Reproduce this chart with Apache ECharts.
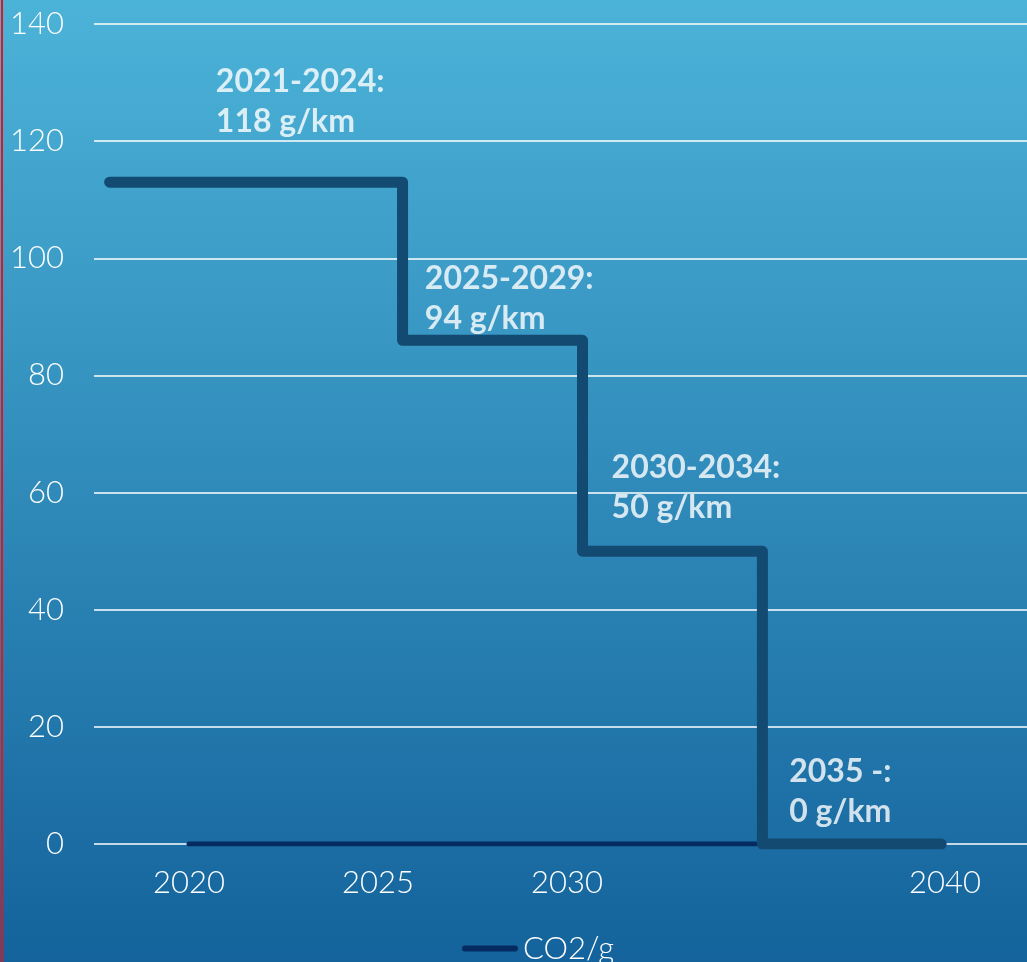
<!DOCTYPE html>
<html>
<head>
<meta charset="utf-8">
<script src="https://cdn.jsdelivr.net/npm/echarts@6/dist/echarts.min.js"></script>
<style>
html,body{margin:0;padding:0;background:#fff;}
#chart{width:1027px;height:962px;}
</style>
</head>
<body>
<div id="chart"></div>
<script>
// ---- data ----
var xTickLabels = [2020, 2025, 2030, 2040];
var yTicks = [0, 20, 40, 60, 80, 100, 120, 140];
// step limit line (x in years, y in g)
var stepYears = [2017.9, 2025.65, 2030.41, 2035.17, 2039.9];
var stepValues = [113, 86, 50, 0, 0];
// CO2/g series
var co2Years = [2020, 2025, 2030, 2035];
var co2Values = [0, 0, 0, 0];
// annotations
var annoTexts = ['2021-2024:\n118 g/km', '2025-2029:\n94 g/km', '2030-2034:\n50 g/km', '2035 -:\n0 g/km'];
var annoYears = [2020.71, 2026.24, 2031.18, 2035.88];
var annoValues = [133.6, 99.9, 67.7, 15.7];

var stepData = stepYears.map(function (x, i) { return [x, stepValues[i]]; });
var co2Data = co2Years.map(function (x, i) { return [x, co2Values[i]]; });
var annoData = annoYears.map(function (x, i) { return { value: [x, annoValues[i]], text: annoTexts[i] }; });

var chart = echarts.init(document.getElementById('chart'));
var FONT = 'Lato, "DejaVu Sans", sans-serif';
chart.setOption({
  animation: false,
  backgroundColor: new echarts.graphic.LinearGradient(0, 0, 0, 1, [
    { offset: 0, color: '#4cb3d8' },
    { offset: 1, color: '#14639c' }
  ]),
  graphic: [{
    type: 'rect', left: 1, top: 0, z: 100,
    shape: { width: 2, height: 962 },
    style: { fill: '#e8141c' }
  }],
  grid: { left: 94, right: 0, top: 24, bottom: 118, containLabel: false },
  legend: {
    data: [{ name: 'CO2/g', icon: 'path://M3,0 L53,0 A3,3 0 0 1 53,6 L3,6 A3,3 0 0 1 3,0 Z' }],
    left: 457, top: 928,
    itemWidth: 56, itemHeight: 6, itemGap: 10,
    textStyle: { color: '#ffffff', fontSize: 31, fontFamily: FONT, fontWeight: 300, padding: [0, 0, 0, 0] }
  },
  xAxis: {
    type: 'value',
    min: 2017.487, max: 2042.17,
    axisLine: { show: false },
    axisTick: { show: false },
    splitLine: { show: false },
    axisLabel: {
      customValues: xTickLabels,
      color: '#ffffff', fontSize: 31, fontFamily: FONT, fontWeight: 300,
      margin: 23,
      formatter: function (v) { return String(Math.round(v)); }
    }
  },
  yAxis: {
    type: 'value',
    min: 0, max: 140, interval: 20,
    axisLine: { show: false },
    axisTick: { show: false },
    splitLine: { show: true, lineStyle: { color: '#ffffff', width: 1.5 } },
    axisLabel: { color: '#ffffff', fontSize: 31, fontFamily: FONT, fontWeight: 300, margin: 30 }
  },
  series: [
    {
      name: 'CO2/g', type: 'line', data: co2Data, symbol: 'none', z: 3,
      lineStyle: { color: '#062b62', width: 5, cap: 'round' },
      itemStyle: { color: '#062b62' }
    },
    {
      name: 'limit', type: 'line', data: stepData, step: 'end', symbol: 'none', z: 4,
      lineStyle: { color: '#124a72', width: 11, cap: 'round', join: 'round' }
    },
    {
      name: 'anno', type: 'scatter', data: annoData, symbolSize: 0, z: 5,
      silent: true,
      label: {
        show: true, position: [0, 0], align: 'left', verticalAlign: 'top',
        formatter: function (p) { return p.data.text; },
        color: '#ffffff', fontSize: 32, fontWeight: 'bold', fontFamily: FONT, lineHeight: 40
      }
    }
  ]
});
</script>
</body>
</html>
